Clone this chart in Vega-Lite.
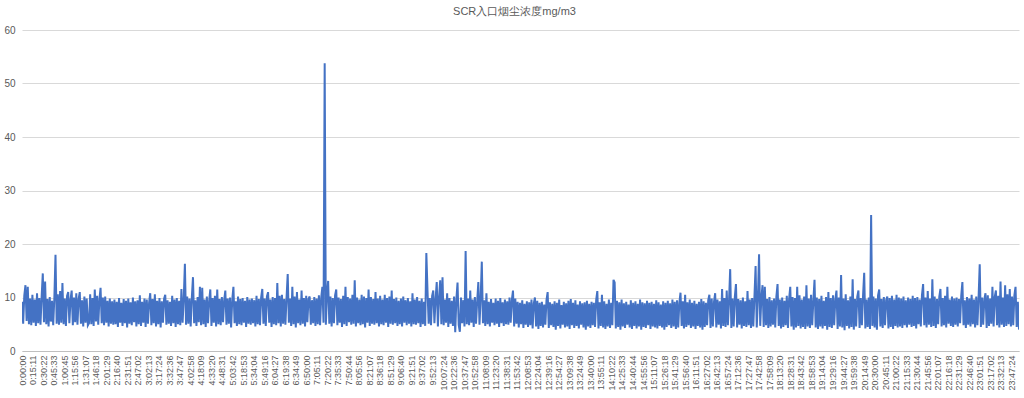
{
"$schema": "https://vega.github.io/schema/vega-lite/v6.json",
"autosize": {"type": "none"},
"width": 997,
"height": 321,
"padding": {"left": 22, "top": 30, "right": 5, "bottom": 47},
"background": "white",
"config": {"view": {"stroke": null}, "font": "Liberation Sans"},
"title": {"text": "SCR入口烟尘浓度mg/m3", "fontSize": 11, "fontWeight": "normal", "color": "#595959", "anchor": "middle", "frame": "group", "offset": 8, "dx": -6},
"data": {"values": [
{"t":0,"v":9.2},{"t":100,"v":5.1},{"t":200,"v":10.4},{"t":300,"v":12.3},{"t":400,"v":5.6},{"t":500,"v":12.0},{"t":600,"v":5.0},{"t":700,"v":9.8},{"t":800,"v":4.8},{"t":900,"v":10.5},
{"t":1000,"v":5.3},{"t":1100,"v":9.6},{"t":1200,"v":4.7},{"t":1300,"v":10.8},{"t":1400,"v":5.2},{"t":1500,"v":9.9},{"t":1600,"v":4.9},{"t":1700,"v":10.2},{"t":1800,"v":14.5},{"t":1900,"v":5.4},
{"t":2000,"v":13.0},{"t":2100,"v":5.0},{"t":2200,"v":9.7},{"t":2300,"v":4.6},{"t":2400,"v":10.1},{"t":2500,"v":5.5},{"t":2600,"v":9.4},{"t":2700,"v":4.8},{"t":2800,"v":9.9},{"t":2900,"v":18.0},
{"t":3000,"v":5.1},{"t":3100,"v":10.6},{"t":3200,"v":4.9},{"t":3300,"v":11.2},{"t":3400,"v":5.3},{"t":3500,"v":12.7},{"t":3600,"v":5.0},{"t":3700,"v":9.8},{"t":3800,"v":4.7},{"t":3900,"v":10.3},
{"t":4000,"v":11.0},{"t":4100,"v":5.2},{"t":4200,"v":9.6},{"t":4300,"v":11.3},{"t":4400,"v":4.8},{"t":4500,"v":10.0},{"t":4600,"v":5.4},{"t":4700,"v":10.8},{"t":4800,"v":4.9},{"t":4900,"v":9.7},
{"t":5000,"v":11.0},{"t":5100,"v":5.1},{"t":5200,"v":9.5},{"t":5300,"v":4.6},{"t":5400,"v":10.2},{"t":5500,"v":5.3},{"t":5600,"v":9.8},{"t":5700,"v":4.8},{"t":5800,"v":5.2},{"t":5900,"v":10.6},
{"t":6000,"v":5.0},{"t":6100,"v":9.9},{"t":6200,"v":4.7},{"t":6300,"v":11.5},{"t":6400,"v":5.5},{"t":6500,"v":10.3},{"t":6600,"v":4.9},{"t":6700,"v":9.6},{"t":6800,"v":11.8},{"t":6900,"v":5.2},
{"t":7000,"v":10.0},{"t":7100,"v":4.8},{"t":7200,"v":10.2},{"t":7300,"v":5.3},{"t":7400,"v":9.4},{"t":7500,"v":4.6},{"t":7600,"v":9.8},{"t":7700,"v":5.1},{"t":7800,"v":9.3},{"t":7900,"v":4.9},
{"t":8000,"v":9.6},{"t":8100,"v":5.0},{"t":8200,"v":9.2},{"t":8300,"v":4.5},{"t":8400,"v":9.9},{"t":8500,"v":5.3},{"t":8600,"v":9.0},{"t":8700,"v":4.7},{"t":8800,"v":9.7},{"t":8900,"v":5.2},
{"t":9000,"v":9.4},{"t":9100,"v":4.4},{"t":9200,"v":9.8},{"t":9300,"v":5.1},{"t":9400,"v":9.1},{"t":9500,"v":4.8},{"t":9600,"v":10.0},{"t":9700,"v":5.4},{"t":9800,"v":9.3},{"t":9900,"v":4.6},
{"t":10000,"v":9.5},{"t":10100,"v":5.0},{"t":10200,"v":10.4},{"t":10300,"v":4.7},{"t":10400,"v":9.2},{"t":10500,"v":5.3},{"t":10600,"v":9.8},{"t":10700,"v":4.5},{"t":10800,"v":9.6},{"t":10900,"v":5.1},
{"t":11000,"v":9.0},{"t":11100,"v":10.8},{"t":11200,"v":4.8},{"t":11300,"v":9.7},{"t":11400,"v":5.2},{"t":11500,"v":10.6},{"t":11600,"v":4.6},{"t":11700,"v":9.4},{"t":11800,"v":5.0},{"t":11900,"v":9.9},
{"t":12000,"v":4.4},{"t":12100,"v":9.3},{"t":12200,"v":5.3},{"t":12300,"v":9.8},{"t":12400,"v":10.5},{"t":12500,"v":4.9},{"t":12600,"v":9.5},{"t":12700,"v":5.1},{"t":12800,"v":9.2},{"t":12900,"v":4.7},
{"t":13000,"v":10.3},{"t":13100,"v":5.2},{"t":13200,"v":9.6},{"t":13300,"v":4.5},{"t":13400,"v":9.9},{"t":13500,"v":5.0},{"t":13600,"v":9.4},{"t":13700,"v":4.8},{"t":13800,"v":11.6},{"t":13900,"v":5.3},
{"t":14000,"v":9.7},{"t":14100,"v":16.3},{"t":14200,"v":4.9},{"t":14300,"v":10.2},{"t":14400,"v":5.1},{"t":14500,"v":9.8},{"t":14600,"v":4.6},{"t":14700,"v":10.0},{"t":14800,"v":13.8},{"t":14900,"v":5.2},
{"t":15000,"v":9.5},{"t":15100,"v":4.7},{"t":15200,"v":10.1},{"t":15300,"v":5.4},{"t":15400,"v":12.0},{"t":15500,"v":4.8},{"t":15600,"v":11.8},{"t":15700,"v":5.0},{"t":15800,"v":9.6},{"t":15900,"v":4.5},
{"t":16000,"v":10.2},{"t":16100,"v":5.2},{"t":16200,"v":9.4},{"t":16300,"v":11.5},{"t":16400,"v":4.7},{"t":16500,"v":9.9},{"t":16600,"v":5.3},{"t":16700,"v":10.3},{"t":16800,"v":4.6},{"t":16900,"v":11.5},
{"t":17000,"v":5.0},{"t":17100,"v":9.7},{"t":17200,"v":4.8},{"t":17300,"v":10.1},{"t":17400,"v":5.4},{"t":17500,"v":9.5},{"t":17600,"v":11.3},{"t":17700,"v":4.9},{"t":17800,"v":9.8},{"t":17900,"v":5.1},
{"t":18000,"v":10.0},{"t":18100,"v":4.4},{"t":18200,"v":9.6},{"t":18300,"v":12.0},{"t":18400,"v":5.2},{"t":18500,"v":9.3},{"t":18600,"v":4.7},{"t":18700,"v":10.2},{"t":18800,"v":5.0},{"t":18900,"v":9.7},
{"t":19000,"v":4.8},{"t":19100,"v":9.9},{"t":19200,"v":5.3},{"t":19300,"v":9.4},{"t":19400,"v":4.5},{"t":19500,"v":10.1},{"t":19600,"v":5.1},{"t":19700,"v":9.6},{"t":19800,"v":4.9},{"t":19900,"v":9.8},
{"t":20000,"v":5.2},{"t":20100,"v":9.5},{"t":20200,"v":4.6},{"t":20300,"v":10.3},{"t":20400,"v":5.0},{"t":20500,"v":9.7},{"t":20600,"v":4.8},{"t":20700,"v":10.0},{"t":20800,"v":11.6},{"t":20900,"v":5.1},
{"t":21000,"v":9.8},{"t":21100,"v":4.7},{"t":21200,"v":10.2},{"t":21300,"v":11.0},{"t":21400,"v":5.3},{"t":21500,"v":9.6},{"t":21600,"v":4.5},{"t":21700,"v":10.1},{"t":21800,"v":5.0},{"t":21900,"v":9.9},
{"t":22000,"v":4.8},{"t":22100,"v":12.7},{"t":22200,"v":5.2},{"t":22300,"v":10.3},{"t":22400,"v":4.6},{"t":22500,"v":10.5},{"t":22600,"v":5.1},{"t":22700,"v":9.7},{"t":22800,"v":4.9},{"t":22900,"v":10.0},
{"t":23000,"v":14.4},{"t":23100,"v":5.3},{"t":23200,"v":9.8},{"t":23300,"v":4.7},{"t":23400,"v":12.0},{"t":23500,"v":5.0},{"t":23600,"v":10.2},{"t":23700,"v":4.4},{"t":23800,"v":11.0},{"t":23900,"v":5.2},
{"t":24000,"v":9.6},{"t":24100,"v":4.8},{"t":24200,"v":11.3},{"t":24300,"v":5.1},{"t":24400,"v":9.9},{"t":24500,"v":4.6},{"t":24600,"v":10.3},{"t":24700,"v":5.4},{"t":24800,"v":9.7},{"t":24900,"v":10.2},
{"t":25000,"v":4.9},{"t":25100,"v":9.5},{"t":25200,"v":5.2},{"t":25300,"v":10.1},{"t":25400,"v":4.7},{"t":25500,"v":9.8},{"t":25600,"v":5.0},{"t":25700,"v":10.4},{"t":25800,"v":4.8},{"t":25900,"v":10.0},
{"t":26000,"v":12.0},{"t":26100,"v":5.3},{"t":26200,"v":53.8},{"t":26300,"v":4.9},{"t":26400,"v":10.6},{"t":26500,"v":13.1},{"t":26600,"v":5.1},{"t":26700,"v":10.2},{"t":26800,"v":4.6},{"t":26900,"v":9.9},
{"t":27000,"v":5.2},{"t":27100,"v":10.4},{"t":27200,"v":11.5},{"t":27300,"v":4.8},{"t":27400,"v":10.0},{"t":27500,"v":5.3},{"t":27600,"v":9.7},{"t":27700,"v":4.5},{"t":27800,"v":10.3},{"t":27900,"v":5.0},
{"t":28000,"v":12.0},{"t":28100,"v":4.7},{"t":28200,"v":10.1},{"t":28300,"v":5.4},{"t":28400,"v":9.8},{"t":28500,"v":4.9},{"t":28600,"v":10.5},{"t":28700,"v":5.1},{"t":28800,"v":13.2},{"t":28900,"v":4.6},
{"t":29000,"v":10.0},{"t":29100,"v":5.2},{"t":29200,"v":9.6},{"t":29300,"v":4.8},{"t":29400,"v":10.5},{"t":29500,"v":5.0},{"t":29600,"v":10.2},{"t":29700,"v":4.4},{"t":29800,"v":9.9},{"t":29900,"v":5.3},
{"t":30000,"v":11.5},{"t":30100,"v":4.7},{"t":30200,"v":10.1},{"t":30300,"v":5.1},{"t":30400,"v":9.7},{"t":30500,"v":4.9},{"t":30600,"v":11.0},{"t":30700,"v":5.2},{"t":30800,"v":9.8},{"t":30900,"v":4.6},
{"t":31000,"v":10.3},{"t":31100,"v":5.0},{"t":31200,"v":9.6},{"t":31300,"v":4.8},{"t":31400,"v":10.5},{"t":31500,"v":5.3},{"t":31600,"v":9.9},{"t":31700,"v":4.5},{"t":31800,"v":10.2},{"t":31900,"v":5.1},
{"t":32000,"v":11.3},{"t":32100,"v":4.9},{"t":32200,"v":9.7},{"t":32300,"v":5.2},{"t":32400,"v":10.0},{"t":32500,"v":4.7},{"t":32600,"v":9.4},{"t":32700,"v":5.0},{"t":32800,"v":9.8},{"t":32900,"v":4.6},
{"t":33000,"v":10.2},{"t":33100,"v":5.3},{"t":33200,"v":9.5},{"t":33300,"v":4.8},{"t":33400,"v":9.9},{"t":33500,"v":5.1},{"t":33600,"v":9.3},{"t":33700,"v":4.6},{"t":33800,"v":10.8},{"t":33900,"v":5.0},
{"t":34000,"v":9.6},{"t":34100,"v":4.9},{"t":34200,"v":10.1},{"t":34300,"v":5.2},{"t":34400,"v":9.4},{"t":34500,"v":4.5},{"t":34600,"v":9.8},{"t":34700,"v":5.0},{"t":34800,"v":9.2},{"t":34900,"v":4.7},
{"t":35000,"v":18.3},{"t":35100,"v":11.3},{"t":35200,"v":5.1},{"t":35300,"v":9.9},{"t":35400,"v":4.8},{"t":35500,"v":10.3},{"t":35600,"v":11.3},{"t":35700,"v":5.2},{"t":35800,"v":9.7},{"t":35900,"v":12.9},
{"t":36000,"v":4.6},{"t":36100,"v":10.0},{"t":36200,"v":13.2},{"t":36300,"v":5.0},{"t":36400,"v":13.8},{"t":36500,"v":4.8},{"t":36600,"v":9.6},{"t":36700,"v":5.3},{"t":36800,"v":10.8},{"t":36900,"v":4.5},
{"t":37000,"v":9.9},{"t":37100,"v":5.1},{"t":37200,"v":9.4},{"t":37300,"v":4.7},{"t":37400,"v":10.2},{"t":37500,"v":3.5},{"t":37600,"v":9.7},{"t":37700,"v":12.8},{"t":37800,"v":4.9},{"t":37900,"v":3.6},
{"t":38000,"v":10.0},{"t":38100,"v":5.2},{"t":38200,"v":9.5},{"t":38300,"v":4.6},{"t":38400,"v":18.7},{"t":38500,"v":5.0},{"t":38600,"v":9.8},{"t":38700,"v":4.8},{"t":38800,"v":11.3},{"t":38900,"v":5.3},
{"t":39000,"v":9.6},{"t":39100,"v":4.5},{"t":39200,"v":10.1},{"t":39300,"v":5.1},{"t":39400,"v":9.3},{"t":39500,"v":12.9},{"t":39600,"v":4.9},{"t":39700,"v":9.8},{"t":39800,"v":16.7},{"t":39900,"v":5.2},
{"t":40000,"v":9.5},{"t":40100,"v":4.7},{"t":40200,"v":10.8},{"t":40300,"v":5.0},{"t":40400,"v":9.2},{"t":40500,"v":4.6},{"t":40600,"v":9.7},{"t":40700,"v":5.3},{"t":40800,"v":9.0},{"t":40900,"v":4.8},
{"t":41000,"v":9.8},{"t":41100,"v":5.1},{"t":41200,"v":9.4},{"t":41300,"v":4.5},{"t":41400,"v":9.9},{"t":41500,"v":5.2},{"t":41600,"v":9.1},{"t":41700,"v":4.7},{"t":41800,"v":9.6},{"t":41900,"v":5.0},
{"t":42000,"v":9.3},{"t":42100,"v":4.9},{"t":42200,"v":10.0},{"t":42300,"v":5.3},{"t":42400,"v":9.5},{"t":42500,"v":11.3},{"t":42600,"v":4.6},{"t":42700,"v":9.8},{"t":42800,"v":5.1},{"t":42900,"v":9.2},
{"t":43000,"v":4.4},{"t":43100,"v":9.0},{"t":43200,"v":5.0},{"t":43300,"v":9.5},{"t":43400,"v":4.3},{"t":43500,"v":8.8},{"t":43600,"v":4.9},{"t":43700,"v":9.3},{"t":43800,"v":4.5},{"t":43900,"v":9.1},
{"t":44000,"v":4.8},{"t":44100,"v":9.6},{"t":44200,"v":4.2},{"t":44300,"v":8.9},{"t":44400,"v":10.0},{"t":44500,"v":4.6},{"t":44600,"v":9.4},{"t":44700,"v":4.1},{"t":44800,"v":9.0},{"t":44900,"v":4.7},
{"t":45000,"v":9.2},{"t":45100,"v":4.4},{"t":45200,"v":8.7},{"t":45300,"v":4.9},{"t":45400,"v":9.5},{"t":45500,"v":11.0},{"t":45600,"v":4.3},{"t":45700,"v":9.1},{"t":45800,"v":4.8},{"t":45900,"v":8.8},
{"t":46000,"v":4.5},{"t":46100,"v":9.3},{"t":46200,"v":4.0},{"t":46300,"v":9.0},{"t":46400,"v":4.7},{"t":46500,"v":9.6},{"t":46600,"v":4.2},{"t":46700,"v":8.6},{"t":46800,"v":4.9},{"t":46900,"v":9.2},
{"t":47000,"v":4.4},{"t":47100,"v":8.9},{"t":47200,"v":4.6},{"t":47300,"v":9.4},{"t":47400,"v":4.1},{"t":47500,"v":9.7},{"t":47600,"v":4.8},{"t":47700,"v":9.0},{"t":47800,"v":4.3},{"t":47900,"v":9.5},
{"t":48000,"v":4.7},{"t":48100,"v":8.7},{"t":48200,"v":4.2},{"t":48300,"v":9.3},{"t":48400,"v":4.9},{"t":48500,"v":8.9},{"t":48600,"v":4.4},{"t":48700,"v":9.1},{"t":48800,"v":4.0},{"t":48900,"v":9.4},
{"t":49000,"v":4.6},{"t":49100,"v":8.8},{"t":49200,"v":4.3},{"t":49300,"v":9.2},{"t":49400,"v":4.8},{"t":49500,"v":9.0},{"t":49600,"v":4.5},{"t":49700,"v":9.5},{"t":49800,"v":11.2},{"t":49900,"v":4.2},
{"t":50000,"v":9.1},{"t":50100,"v":4.7},{"t":50200,"v":10.5},{"t":50300,"v":4.4},{"t":50400,"v":9.3},{"t":50500,"v":4.1},{"t":50600,"v":8.8},{"t":50700,"v":4.6},{"t":50800,"v":9.6},{"t":50900,"v":4.3},
{"t":51000,"v":9.0},{"t":51100,"v":4.8},{"t":51200,"v":13.3},{"t":51300,"v":12.8},{"t":51400,"v":4.2},{"t":51500,"v":9.4},{"t":51600,"v":4.5},{"t":51700,"v":9.1},{"t":51800,"v":4.0},{"t":51900,"v":9.6},
{"t":52000,"v":4.6},{"t":52100,"v":8.9},{"t":52200,"v":4.3},{"t":52300,"v":9.2},{"t":52400,"v":4.9},{"t":52500,"v":8.7},{"t":52600,"v":4.4},{"t":52700,"v":9.5},{"t":52800,"v":4.1},{"t":52900,"v":9.0},
{"t":53000,"v":4.7},{"t":53100,"v":9.3},{"t":53200,"v":4.2},{"t":53300,"v":8.8},{"t":53400,"v":4.6},{"t":53500,"v":9.6},{"t":53600,"v":4.0},{"t":53700,"v":9.1},{"t":53800,"v":4.5},{"t":53900,"v":8.9},
{"t":54000,"v":4.3},{"t":54100,"v":9.4},{"t":54200,"v":4.8},{"t":54300,"v":9.0},{"t":54400,"v":4.1},{"t":54500,"v":9.2},{"t":54600,"v":4.6},{"t":54700,"v":8.8},{"t":54800,"v":4.4},{"t":54900,"v":9.5},
{"t":55000,"v":4.2},{"t":55100,"v":9.1},{"t":55200,"v":4.7},{"t":55300,"v":8.7},{"t":55400,"v":4.4},{"t":55500,"v":9.3},{"t":55600,"v":4.0},{"t":55700,"v":9.0},{"t":55800,"v":4.5},{"t":55900,"v":9.4},
{"t":56000,"v":4.8},{"t":56100,"v":8.9},{"t":56200,"v":4.3},{"t":56300,"v":9.6},{"t":56400,"v":4.6},{"t":56500,"v":9.2},{"t":56600,"v":4.1},{"t":56700,"v":9.5},{"t":56800,"v":4.4},{"t":56900,"v":9.0},
{"t":57000,"v":10.9},{"t":57100,"v":4.7},{"t":57200,"v":9.3},{"t":57300,"v":4.2},{"t":57400,"v":10.5},{"t":57500,"v":4.5},{"t":57600,"v":9.1},{"t":57700,"v":4.8},{"t":57800,"v":9.6},{"t":57900,"v":4.3},
{"t":58000,"v":9.0},{"t":58100,"v":4.6},{"t":58200,"v":9.4},{"t":58300,"v":4.1},{"t":58400,"v":8.8},{"t":58500,"v":4.7},{"t":58600,"v":9.2},{"t":58700,"v":4.4},{"t":58800,"v":9.7},{"t":58900,"v":4.0},
{"t":59000,"v":9.3},{"t":59100,"v":4.5},{"t":59200,"v":9.0},{"t":59300,"v":4.8},{"t":59400,"v":9.5},{"t":59500,"v":10.5},{"t":59600,"v":4.3},{"t":59700,"v":9.8},{"t":59800,"v":4.6},{"t":59900,"v":9.2},
{"t":60000,"v":10.8},{"t":60100,"v":4.4},{"t":60200,"v":9.6},{"t":60300,"v":4.9},{"t":60400,"v":9.3},{"t":60500,"v":4.2},{"t":60600,"v":11.6},{"t":60700,"v":4.7},{"t":60800,"v":9.9},{"t":60900,"v":4.5},
{"t":61000,"v":11.3},{"t":61100,"v":4.8},{"t":61200,"v":9.4},{"t":61300,"v":15.3},{"t":61400,"v":4.3},{"t":61500,"v":9.8},{"t":61600,"v":4.6},{"t":61700,"v":10.1},{"t":61800,"v":12.5},{"t":61900,"v":4.4},
{"t":62000,"v":9.7},{"t":62100,"v":4.9},{"t":62200,"v":9.5},{"t":62300,"v":4.2},{"t":62400,"v":10.0},{"t":62500,"v":4.7},{"t":62600,"v":9.3},{"t":62700,"v":4.5},{"t":62800,"v":11.2},{"t":62900,"v":4.8},
{"t":63000,"v":9.6},{"t":63100,"v":4.3},{"t":63200,"v":9.9},{"t":63300,"v":4.6},{"t":63400,"v":10.2},{"t":63500,"v":15.9},{"t":63600,"v":4.4},{"t":63700,"v":9.8},{"t":63800,"v":18.1},{"t":63900,"v":4.7},
{"t":64000,"v":10.0},{"t":64100,"v":12.3},{"t":64200,"v":4.5},{"t":64300,"v":12.0},{"t":64400,"v":4.8},{"t":64500,"v":9.7},{"t":64600,"v":4.3},{"t":64700,"v":10.1},{"t":64800,"v":4.6},{"t":64900,"v":9.5},
{"t":65000,"v":4.9},{"t":65100,"v":9.8},{"t":65200,"v":4.4},{"t":65300,"v":10.2},{"t":65400,"v":12.5},{"t":65500,"v":4.7},{"t":65600,"v":9.6},{"t":65700,"v":4.2},{"t":65800,"v":10.0},{"t":65900,"v":4.5},
{"t":66000,"v":9.4},{"t":66100,"v":4.8},{"t":66200,"v":10.3},{"t":66300,"v":4.3},{"t":66400,"v":9.7},{"t":66500,"v":12.0},{"t":66600,"v":4.6},{"t":66700,"v":10.1},{"t":66800,"v":4.0},{"t":66900,"v":9.9},
{"t":67000,"v":4.4},{"t":67100,"v":12.0},{"t":67200,"v":4.7},{"t":67300,"v":10.4},{"t":67400,"v":4.2},{"t":67500,"v":9.6},{"t":67600,"v":4.5},{"t":67700,"v":10.2},{"t":67800,"v":4.1},{"t":67900,"v":12.3},
{"t":68000,"v":4.6},{"t":68100,"v":9.8},{"t":68200,"v":4.3},{"t":68300,"v":10.5},{"t":68400,"v":4.8},{"t":68500,"v":9.5},{"t":68600,"v":13.3},{"t":68700,"v":4.4},{"t":68800,"v":10.0},{"t":68900,"v":4.1},
{"t":69000,"v":9.7},{"t":69100,"v":4.6},{"t":69200,"v":10.3},{"t":69300,"v":4.2},{"t":69400,"v":9.4},{"t":69500,"v":4.7},{"t":69600,"v":10.1},{"t":69700,"v":4.0},{"t":69800,"v":11.0},{"t":69900,"v":4.5},
{"t":70000,"v":9.9},{"t":70100,"v":4.3},{"t":70200,"v":10.4},{"t":70300,"v":4.8},{"t":70400,"v":9.6},{"t":70500,"v":11.3},{"t":70600,"v":4.1},{"t":70700,"v":10.0},{"t":70800,"v":4.6},{"t":70900,"v":14.2},
{"t":71000,"v":4.4},{"t":71100,"v":9.8},{"t":71200,"v":3.9},{"t":71300,"v":10.6},{"t":71400,"v":4.7},{"t":71500,"v":9.5},{"t":71600,"v":4.2},{"t":71700,"v":10.2},{"t":71800,"v":4.5},{"t":71900,"v":13.4},
{"t":72000,"v":4.0},{"t":72100,"v":9.7},{"t":72200,"v":4.6},{"t":72300,"v":10.1},{"t":72400,"v":11.3},{"t":72500,"v":4.3},{"t":72600,"v":9.9},{"t":72700,"v":4.8},{"t":72800,"v":10.3},{"t":72900,"v":14.6},
{"t":73000,"v":4.2},{"t":73100,"v":9.6},{"t":73200,"v":4.5},{"t":73300,"v":10.0},{"t":73400,"v":4.1},{"t":73500,"v":25.4},{"t":73600,"v":4.7},{"t":73700,"v":10.2},{"t":73800,"v":4.4},{"t":73900,"v":9.8},
{"t":74000,"v":4.0},{"t":74100,"v":10.4},{"t":74200,"v":11.5},{"t":74300,"v":4.6},{"t":74400,"v":9.7},{"t":74500,"v":4.3},{"t":74600,"v":10.1},{"t":74700,"v":4.8},{"t":74800,"v":9.5},{"t":74900,"v":10.2},
{"t":75000,"v":4.2},{"t":75100,"v":9.9},{"t":75200,"v":4.5},{"t":75300,"v":10.3},{"t":75400,"v":4.1},{"t":75500,"v":9.6},{"t":75600,"v":4.7},{"t":75700,"v":10.5},{"t":75800,"v":4.4},{"t":75900,"v":10.0},
{"t":76000,"v":4.6},{"t":76100,"v":9.8},{"t":76200,"v":4.3},{"t":76300,"v":10.2},{"t":76400,"v":4.8},{"t":76500,"v":9.5},{"t":76600,"v":4.4},{"t":76700,"v":10.0},{"t":76800,"v":4.9},{"t":76900,"v":9.7},
{"t":77000,"v":4.5},{"t":77100,"v":10.3},{"t":77200,"v":4.7},{"t":77300,"v":9.9},{"t":77400,"v":4.2},{"t":77500,"v":10.1},{"t":77600,"v":5.0},{"t":77700,"v":9.6},{"t":77800,"v":4.6},{"t":77900,"v":10.4},
{"t":78000,"v":12.5},{"t":78100,"v":4.8},{"t":78200,"v":10.0},{"t":78300,"v":4.4},{"t":78400,"v":11.2},{"t":78500,"v":4.9},{"t":78600,"v":9.8},{"t":78700,"v":4.5},{"t":78800,"v":13.4},{"t":78900,"v":4.7},
{"t":79000,"v":10.2},{"t":79100,"v":4.3},{"t":79200,"v":9.7},{"t":79300,"v":5.0},{"t":79400,"v":10.1},{"t":79500,"v":11.6},{"t":79600,"v":4.6},{"t":79700,"v":9.9},{"t":79800,"v":4.8},{"t":79900,"v":10.3},
{"t":80000,"v":4.4},{"t":80100,"v":12.0},{"t":80200,"v":5.1},{"t":80300,"v":9.6},{"t":80400,"v":4.7},{"t":80500,"v":10.2},{"t":80600,"v":4.5},{"t":80700,"v":9.8},{"t":80800,"v":4.9},{"t":80900,"v":10.0},
{"t":81000,"v":4.6},{"t":81100,"v":9.7},{"t":81200,"v":5.2},{"t":81300,"v":10.3},{"t":81400,"v":12.9},{"t":81500,"v":4.8},{"t":81600,"v":9.5},{"t":81700,"v":4.3},{"t":81800,"v":10.1},{"t":81900,"v":4.9},
{"t":82000,"v":9.8},{"t":82100,"v":4.6},{"t":82200,"v":10.5},{"t":82300,"v":5.0},{"t":82400,"v":9.6},{"t":82500,"v":4.4},{"t":82600,"v":10.2},{"t":82700,"v":4.8},{"t":82800,"v":9.9},{"t":82900,"v":16.2},
{"t":83000,"v":4.5},{"t":83100,"v":10.0},{"t":83200,"v":4.9},{"t":83300,"v":9.7},{"t":83400,"v":10.8},{"t":83500,"v":4.3},{"t":83600,"v":10.4},{"t":83700,"v":4.7},{"t":83800,"v":9.8},{"t":83900,"v":5.1},
{"t":84000,"v":12.0},{"t":84100,"v":4.6},{"t":84200,"v":10.1},{"t":84300,"v":11.3},{"t":84400,"v":4.8},{"t":84500,"v":10.3},{"t":84600,"v":4.4},{"t":84700,"v":13.0},{"t":84800,"v":4.9},{"t":84900,"v":10.0},
{"t":85000,"v":4.5},{"t":85100,"v":12.3},{"t":85200,"v":4.7},{"t":85300,"v":10.6},{"t":85400,"v":5.0},{"t":85500,"v":11.6},{"t":85600,"v":4.6},{"t":85700,"v":10.2},{"t":85800,"v":4.8},{"t":85900,"v":10.4},
{"t":86000,"v":12.0},{"t":86100,"v":4.5},{"t":86200,"v":9.2},{"t":86300,"v":4.0}
]},
"mark": {"type": "line", "color": "#4472C4", "strokeWidth": 2, "interpolate": "linear", "clip": true},
"encoding": {
"x": {"field": "t", "type": "quantitative",
  "scale": {"domain": [0, 86300], "nice": false, "zero": false},
  "axis": {"values": [0,911,1822,2733,3645,4556,5467,6378,7289,8200,9111,10022,10933,11844,12756,13667,14578,15489,16400,17311,18222,19133,20044,20956,21867,22778,23689,24600,25511,26422,27333,28244,29156,30067,30978,31889,32800,33711,34622,35533,36444,37356,38267,39178,40089,41000,41911,42822,43733,44644,45556,46467,47378,48289,49200,50111,51022,51933,52844,53756,54667,55578,56489,57400,58311,59222,60133,61044,61956,62867,63778,64689,65600,66511,67422,68333,69244,70156,71067,71978,72889,73800,74711,75622,76533,77444,78356,79267,80178,81089,82000,82911,83822,84733,85644],
    "labelExpr": "utcFormat(datum.value * 1000, '%-H:%M:%S')",
    "labelAngle": 270, "labelFontSize": 9, "labelColor": "#595959", "labelPadding": 4,
    "labelOverlap": false, "labelFlush": false, "ticks": false, "grid": false,
    "domain": true, "domainColor": "#bfbfbf", "domainWidth": 1, "title": null}},
"y": {"field": "v", "type": "quantitative",
  "scale": {"domain": [0, 60], "nice": false},
  "axis": {"values": [0,10,20,30,40,50,60], "grid": true, "gridColor": "#d9d9d9", "gridWidth": 1,
    "domain": false, "ticks": false, "labelColor": "#595959", "labelFontSize": 10, "labelPadding": 7, "title": null}}
}
}
